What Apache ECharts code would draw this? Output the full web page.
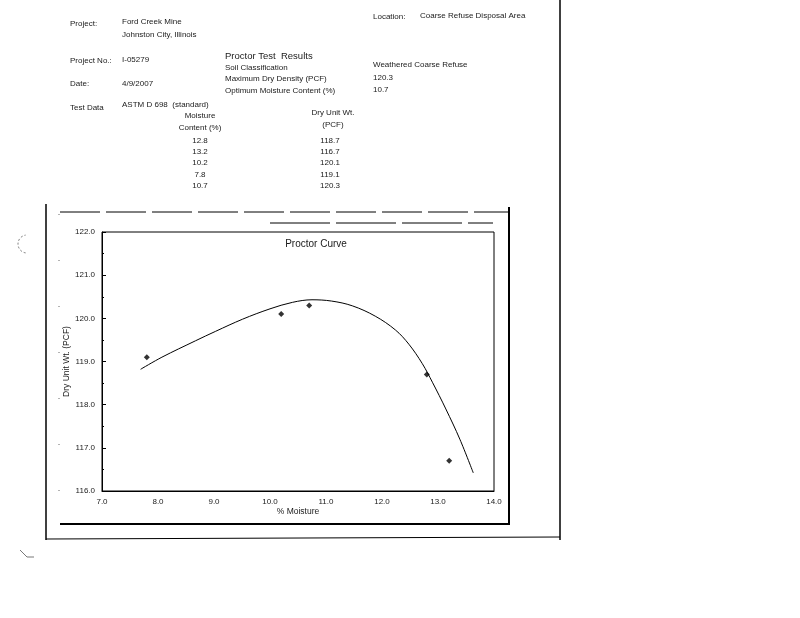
<!DOCTYPE html>
<html>
<head>
<meta charset="utf-8">
<script src="https://cdn.jsdelivr.net/npm/echarts@6/dist/echarts.min.js"></script>
<style>
html,body{margin:0;padding:0;background:#fff;}
#chart{width:800px;height:618px;}
</style>
</head>
<body>
<div id="chart"></div>
<script>
// Test data (table and markers)
var moistureVals = [12.8, 13.2, 10.2, 7.8, 10.7];
var dryVals = [118.7, 116.7, 120.1, 119.1, 120.3];
// Fitted proctor curve
var curveX = [7.69, 8.07, 8.67, 9.03, 9.51, 10.00, 10.40, 10.75, 11.10, 11.47, 11.88, 12.24, 12.48, 12.72, 12.90, 13.14, 13.39, 13.63];
var curveY = [118.82, 119.10, 119.48, 119.70, 119.98, 120.22, 120.37, 120.43, 120.40, 120.29, 120.05, 119.73, 119.40, 118.95, 118.52, 117.90, 117.20, 116.42];
var xTicks = [7, 8, 9, 10, 11, 12, 13, 14];
var yTicks = [116, 117, 118, 119, 120, 121, 122];

var chart = echarts.init(document.getElementById('chart'));
var F = '"Liberation Sans", Arial, sans-serif';
var TC = '#1a1a1a';

function txt(x, y, s, size, align, weight) {
  return {
    type: 'text', x: x, y: y, silent: true,
    style: {
      text: s, fill: TC, textAlign: align || 'left', textVerticalAlign: 'middle',
      font: (weight || 'normal') + ' ' + (size || 8) + 'px ' + F
    }
  };
}
function ln(x1, y1, x2, y2, w, dash, c) {
  return {
    type: 'line', silent: true,
    shape: {x1: x1, y1: y1, x2: x2, y2: y2},
    style: {stroke: c || '#000', lineWidth: w || 1, lineDash: dash || null}
  };
}

var g = [];
// header block
g.push(txt(70, 24, 'Project:'));
g.push(txt(122, 22, 'Ford Creek Mine'));
g.push(txt(122, 35, 'Johnston City, Illinois'));
g.push(txt(373, 17, 'Location:'));
g.push(txt(420, 16, 'Coarse Refuse Disposal Area'));
g.push(txt(70, 61, 'Project No.:'));
g.push(txt(122, 60, 'I-05279'));
g.push(txt(225, 56, 'Proctor Test  Results', 9.5));
g.push(txt(225, 68, 'Soil Classification'));
g.push(txt(225, 79, 'Maximum Dry Density (PCF)'));
g.push(txt(225, 91, 'Optimum Moisture Content (%)'));
g.push(txt(373, 65, 'Weathered Coarse Refuse'));
g.push(txt(373, 78, '120.3'));
g.push(txt(373, 90, '10.7'));
g.push(txt(70, 84, 'Date:'));
g.push(txt(122, 84, '4/9/2007'));
g.push(txt(70, 108, 'Test Data'));
g.push(txt(122, 105, 'ASTM D 698  (standard)'));
g.push(txt(200, 116, 'Moisture', 8, 'center'));
g.push(txt(200, 128, 'Content (%)', 8, 'center'));
g.push(txt(333, 113, 'Dry Unit Wt.', 8, 'center'));
g.push(txt(333, 125, '(PCF)', 8, 'center'));
var rowY = [141, 152, 163, 175, 186];
for (var i = 0; i < moistureVals.length; i++) {
  g.push(txt(200, rowY[i], moistureVals[i].toFixed(1), 8, 'center'));
  g.push(txt(330, rowY[i], dryVals[i].toFixed(1), 8, 'center'));
}
// page borders
g.push(ln(560, 0, 560, 540, 1.5));
g.push(ln(46, 204, 46, 540, 1.5));
g.push(ln(46, 539, 560, 537, 1));
// chart frame
g.push(ln(60, 212, 508, 212, 1, [40, 6]));
g.push(ln(509, 207, 509, 525, 2));
g.push(ln(60, 524, 509, 524, 2));
g.push(ln(59, 214, 59, 524, 1, [1, 45], '#666'));
g.push(ln(270, 223, 493, 223, 1, [60, 6]));
// scan artefacts
g.push({type: 'arc', silent: true, shape: {cx: 27, cy: 244, r: 9, startAngle: Math.PI * 0.55, endAngle: Math.PI * 1.45}, style: {stroke: '#555', lineWidth: 0.8, fill: null, lineDash: [2, 2]}});
g.push(ln(20, 550, 27, 557, 0.8, null, '#555'));
g.push(ln(27, 557, 34, 557, 0.8, null, '#555'));

var curveData = curveX.map(function (x, i) { return [x, curveY[i]]; });
var pts = moistureVals.map(function (x, i) { return [x, dryVals[i]]; });

chart.setOption({
  backgroundColor: '#fff',
  animation: false,
  title: {
    text: 'Proctor Curve', left: 311, top: 234, textAlign: 'center',
    textStyle: {fontFamily: F, fontSize: 10, fontWeight: 'normal', color: TC}
  },
  grid: {left: 102, top: 232, right: 306, bottom: 127, show: true, borderColor: '#000', borderWidth: 1, backgroundColor: 'transparent'},
  xAxis: {
    type: 'value', min: xTicks[0], max: xTicks[xTicks.length - 1], interval: 1,
    name: '% Moisture', nameLocation: 'middle', nameGap: 15,
    nameTextStyle: {fontFamily: F, fontSize: 8.5, color: TC},
    axisLine: {lineStyle: {color: '#000', width: 1}},
    axisTick: {show: false},
    splitLine: {show: false},
    axisLabel: {fontFamily: F, fontSize: 8, color: TC, margin: 7, formatter: function (v) { return v.toFixed(1); }}
  },
  yAxis: {
    type: 'value', min: yTicks[0], max: yTicks[yTicks.length - 1], interval: 1,
    name: 'Dry Unit Wt. (PCF)', nameLocation: 'middle', nameGap: 27,
    nameTextStyle: {fontFamily: F, fontSize: 8.5, color: TC},
    axisLine: {lineStyle: {color: '#000', width: 1}},
    axisTick: {show: true, inside: true, length: 4, lineStyle: {color: '#000'}},
    minorTick: {show: true, splitNumber: 2, length: 2, lineStyle: {color: '#000'}},
    splitLine: {show: false},
    axisLabel: {fontFamily: F, fontSize: 8, color: TC, margin: 7, formatter: function (v) { return v.toFixed(1); }}
  },
  series: [
    {
      type: 'line', data: curveData, smooth: 0.35, showSymbol: false,
      lineStyle: {color: '#000', width: 1}, silent: true
    },
    {
      type: 'scatter', data: pts, symbol: 'diamond', symbolSize: 6,
      itemStyle: {color: '#000'}
    }
  ],
  graphic: g
});
</script>
</body>
</html>
